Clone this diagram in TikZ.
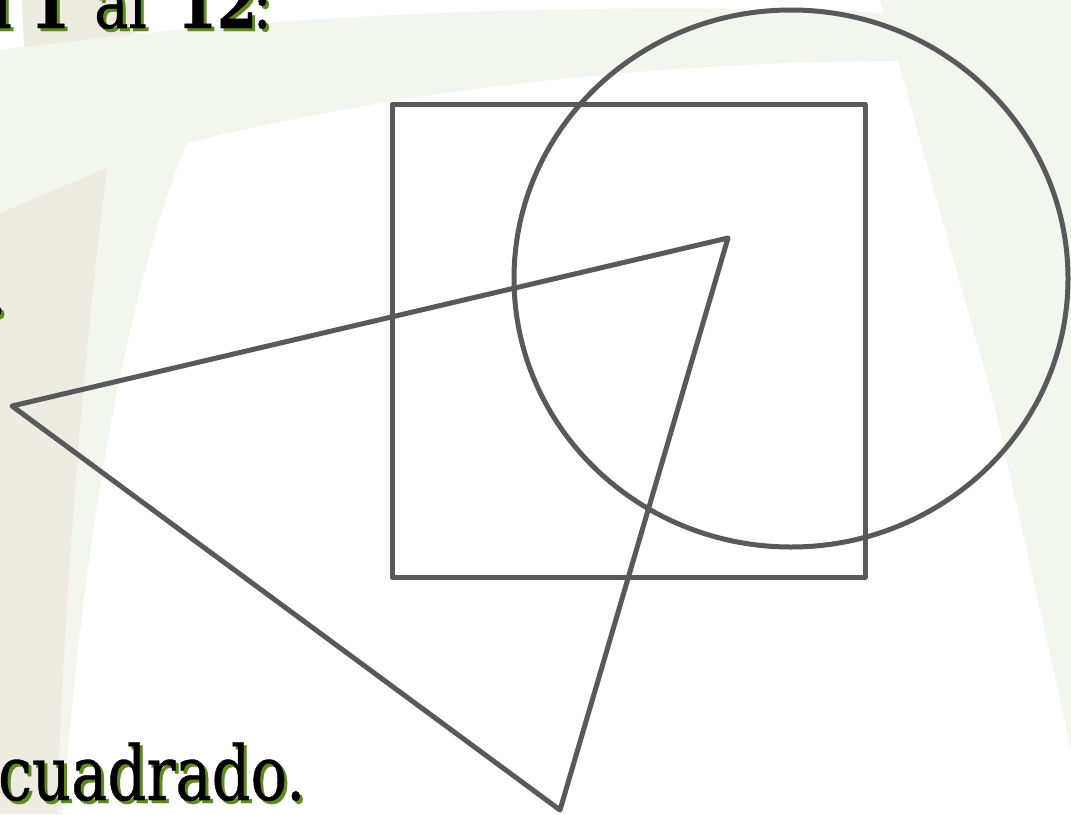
\documentclass[tikz,border=0pt]{standalone}
\usepackage{fontspec}
\setmainfont[FakeStretch=0.8]{DejaVu Serif}
\newfontfamily\slabfont[FakeStretch=0.8,FakeBold=0.5]{DejaVu Serif}
\definecolor{bandgreen}{RGB}{243,246,236}
\definecolor{beige}{RGB}{238,236,224}
\definecolor{shadowgreen}{RGB}{94,138,30}
\definecolor{linegray}{RGB}{89,89,91}
\tikzset{
  shapeline/.style={draw=linegray, line width=5pt, line join=round, line cap=round},
  txt/.style={inner sep=0pt, outer sep=0pt, text=black, font=\slabfont\fontsize{76}{80}\selectfont},
  shd/.style={txt, text=shadowgreen},
  toptxt/.style={inner sep=0pt, outer sep=0pt, text=black, font=\slabfont\fontsize{72}{76}\selectfont},
  topshd/.style={toptxt, text=shadowgreen}
}
\newcommand{\topline}{\makebox[12pt][r]{del}\makebox[58pt][r]{\textbf{1}}\makebox[77pt][r]{al}\makebox[110pt][r]{\textbf{12}}\makebox[15pt][r]{:}}
\begin{document}
\begin{tikzpicture}[x=1pt, y=-1pt]
\useasboundingbox (0,0) rectangle (1071,814);
% background
\fill[bandgreen] (0,0) rectangle (1071,814);
\fill[white] (0,0) -- (880,0) -- (883,13) .. controls (600,0) and (250,15) .. (0,50) -- cycle;
\fill[white] (187,143) .. controls (400,90) and (650,62) .. (898,61)
  -- (945,230) -- (993,400) -- (1053,667) -- (1071,750) -- (1071,814) -- (63,814)
  .. controls (75,640) and (110,330) .. (187,143) -- cycle;
\fill[beige] (22,0) -- (135,0) -- (135,34) -- (24,47) -- cycle;
\fill[beige] (0,213) -- (107,168) .. controls (90,300) and (65,560) .. (57,814) -- (0,814) -- cycle;
% texts
\node[topshd, anchor=base west] (t2) at (3,31) {\topline};
\node[toptxt, anchor=base west] (t1) at (0,28) {\topline};
\node[shd, anchor=base east] (p2) at (10,318) {.};
\node[txt, anchor=base east] (p1) at (7,315) {.};
\node[shd, anchor=base west] (c2) at (1,803) {cuadrado.};
\node[txt, anchor=base west] (c1) at (-2,800) {cuadrado.};
% shapes
\draw[shapeline] (392,104) rectangle (865,577);
\draw[shapeline] (791,278.5) ellipse [x radius=277, y radius=268.5];
\coordinate (A) at (12,406);
\coordinate (B) at (728,238);
\coordinate (C) at (560,810);
\draw[shapeline] (A) -- (B) -- (C) -- cycle;
\end{tikzpicture}
\end{document}
